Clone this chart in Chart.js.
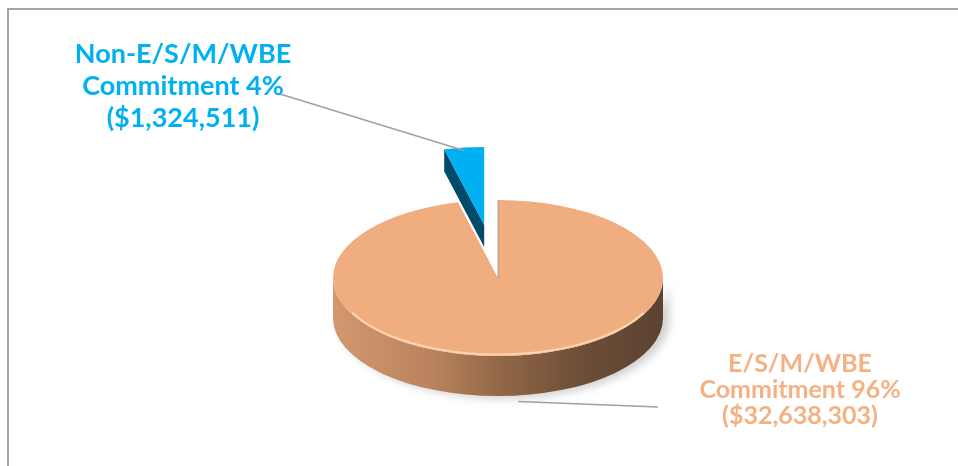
<!DOCTYPE html>
<html>
<head>
<meta charset="utf-8">
<script src="https://cdn.jsdelivr.net/npm/chart.js@4.4.1/dist/chart.umd.min.js"></script>
<style>
html, body { margin: 0; padding: 0; background: #fff; }
canvas { display: block; }
</style>
</head>
<body>
<canvas id="graph" width="958" height="466"></canvas>
<script>
/* Commitment split, E/S/M/WBE vs Non-E/S/M/WBE */
const categories = ['E/S/M/WBE', 'Non-E/S/M/WBE'];
const amounts = [32638303, 1324511];
const sliceColors = ['#F0AD80', '#00B0F0'];
const sideColors = ['#9C6D4C', '#034B69'];
const labelColors = ['#F4B183', '#00B0F0'];

// fake 3D look
const tilt = 0.473;
const depth = [40, 22];
const explode = [0, 113];
const labelPos = [{x: 800, y: 372, size: 25, gap: 26}, {x: 183, y: 63, size: 27, gap: 32}];
const leaderStart = [{x: 658, y: 407}, {x: 280, y: 94}];

const total = amounts.reduce((a, b) => a + b, 0);

function geometry(chart) {
    const arcs = chart.getDatasetMeta(0).data;
    return arcs.map((arc, i) => {
        const p = arc.getProps(['x', 'y', 'startAngle', 'endAngle', 'outerRadius']);
        const mid = (p.startAngle + p.endAngle) / 2;
        return {
            cx: p.x + explode[i] * Math.cos(mid),
            cy: p.y + explode[i] * Math.sin(mid) * tilt,
            r: p.outerRadius, s: p.startAngle, e: p.endAngle, mid: mid, d: depth[i]
        };
    });
}

function pt(g, a, dy) {
    return [g.cx + g.r * Math.cos(a), g.cy + g.r * tilt * Math.sin(a) + (dy || 0)];
}

function cutFace(ctx, g, a, color) {
    const o = pt(g, a);
    ctx.beginPath();
    ctx.moveTo(g.cx, g.cy);
    ctx.lineTo(o[0], o[1]);
    ctx.lineTo(o[0], o[1] + g.d);
    ctx.lineTo(g.cx, g.cy + g.d);
    ctx.closePath();
    ctx.fillStyle = color;
    ctx.fill();
}

const pie3d = {
    id: 'pie3d',
    beforeDatasetsDraw(chart) {
        const ctx = chart.ctx;
        const geo = geometry(chart);
        geo.forEach((g, i) => {
            ctx.save();
            // outer wall, front half only
            [0, 2 * Math.PI, -2 * Math.PI].forEach(k => {
                const a0 = Math.max(g.s, k), a1 = Math.min(g.e, k + Math.PI);
                if (a1 <= a0) return;
                const grad = ctx.createLinearGradient(g.cx - g.r, 0, g.cx + g.r, 0);
                grad.addColorStop(0, '#D29870');
                grad.addColorStop(0.3, '#BA835D');
                grad.addColorStop(0.5, '#936848');
                grad.addColorStop(0.75, '#6D4E37');
                grad.addColorStop(1, '#5C4231');
                ctx.save();
                ctx.shadowColor = 'rgba(0,0,0,0.2)';
                ctx.shadowBlur = 10;
                ctx.shadowOffsetX = 6;
                ctx.shadowOffsetY = 2;
                ctx.beginPath();
                ctx.ellipse(g.cx, g.cy, g.r, g.r * tilt, 0, a0, a1, false);
                const b = pt(g, a1, g.d);
                ctx.lineTo(b[0], b[1]);
                ctx.ellipse(g.cx, g.cy + g.d, g.r, g.r * tilt, 0, a1, a0, true);
                ctx.closePath();
                ctx.fillStyle = grad;
                ctx.fill();
                ctx.restore();
            });
            // cut faces that turn toward the viewer
            if (Math.sin(g.s - Math.PI / 2) > 0.01) cutFace(ctx, g, g.s, sideColors[i]);
            if (Math.sin(g.e + Math.PI / 2) > 0.01) cutFace(ctx, g, g.e, sideColors[i]);
            // top face
            ctx.beginPath();
            ctx.moveTo(g.cx, g.cy);
            ctx.ellipse(g.cx, g.cy, g.r, g.r * tilt, 0, g.s, g.e, false);
            ctx.closePath();
            ctx.fillStyle = sliceColors[i];
            ctx.fill();
            if (i === 0) {
                ctx.beginPath();
                ctx.ellipse(g.cx, g.cy, g.r - 1.5, g.r * tilt - 1.5, 0, 0.15 * Math.PI, 0.85 * Math.PI, false);
                ctx.strokeStyle = 'rgba(255,225,195,0.75)';
                ctx.lineWidth = 2;
                ctx.stroke();
                const o = pt(g, g.s);
                ctx.beginPath();
                ctx.moveTo(g.cx, g.cy);
                ctx.lineTo(o[0], o[1]);
                ctx.strokeStyle = 'rgba(120,120,120,0.6)';
                ctx.lineWidth = 1;
                ctx.stroke();
            }
            ctx.restore();
        });
        return false;
    },
    afterDraw(chart) {
        const ctx = chart.ctx;
        const geo = geometry(chart);
        ctx.save();
        // frame
        ctx.fillStyle = '#A6A6A6';
        ctx.fillRect(7, 8, 958, 2);
        ctx.fillRect(7, 8, 2, 466);
        geo.forEach((g, i) => {
            // leader line
            const end = i === 0 ? pt(g, g.mid, g.d + 6) : pt(g, g.mid, 3);
            ctx.beginPath();
            ctx.moveTo(leaderStart[i].x, leaderStart[i].y);
            ctx.lineTo(end[0], end[1]);
            ctx.strokeStyle = '#A0A0A0';
            ctx.lineWidth = 1.5;
            ctx.stroke();
            // label
            const pct = Math.round(amounts[i] / total * 100);
            const lines = [categories[i], 'Commitment ' + pct + '%', '($' + amounts[i].toLocaleString('en-US') + ')'];
            const lp = labelPos[i];
            ctx.font = 'bold ' + lp.size + 'px Lato';
            ctx.fillStyle = labelColors[i];
            ctx.textAlign = 'center';
            ctx.textBaseline = 'alphabetic';
            lines.forEach((t, j) => ctx.fillText(t, lp.x, lp.y + j * lp.gap));
        });
        ctx.restore();
    }
};

new Chart(document.getElementById('graph'), {
    type: 'pie',
    data: {
        labels: categories,
        datasets: [{data: amounts, backgroundColor: sliceColors, borderWidth: 0}]
    },
    options: {
        responsive: false,
        animation: false,
        devicePixelRatio: 1,
        layout: {padding: {left: 333, right: 295, top: 113, bottom: 23}},
        plugins: {legend: {display: false}, tooltip: {enabled: false}}
    },
    plugins: [pie3d]
});
</script>
</body>
</html>
